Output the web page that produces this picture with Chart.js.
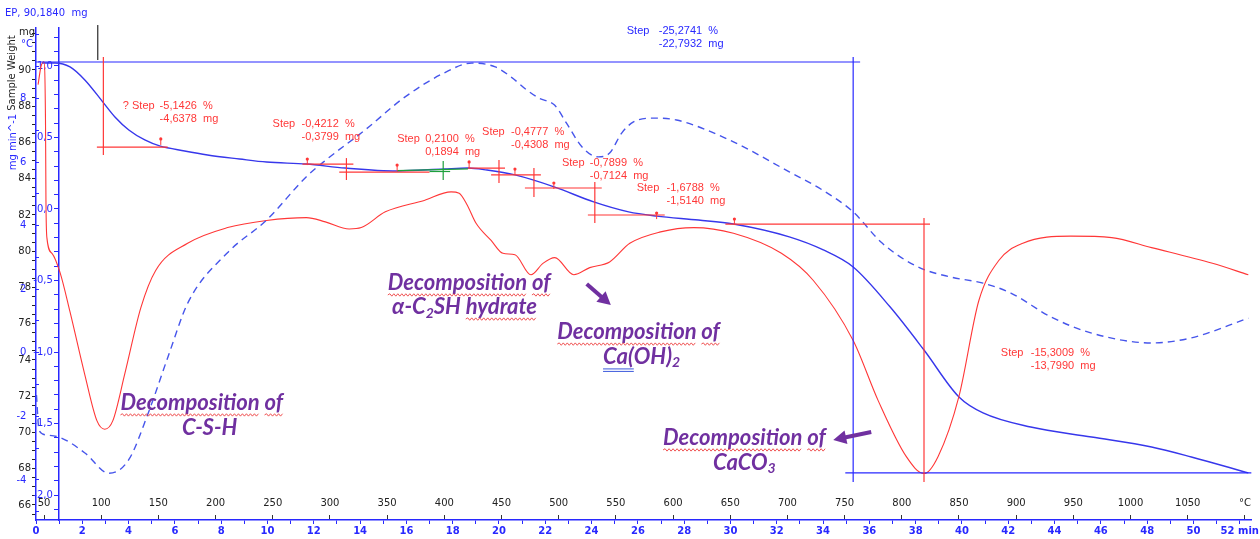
<!DOCTYPE html>
<html>
<head>
<meta charset="utf-8">
<script src="https://cdn.jsdelivr.net/npm/chart.js@4.4.1/dist/chart.umd.min.js"></script>
<style>
html, body { margin: 0; padding: 0; background: #fff; }
#wrap { width: 1260px; height: 539px; position: relative; }
</style>
</head>
<body>
<div id="wrap"><canvas id="myChart"></canvas></div>
<script>
// curves, time in min
var tgTime = [0.26, 0.82, 1.47, 2.11, 2.89, 3.41, 4.01, 4.70, 5.34, 6.42, 7.41, 8.79, 9.96, 11.68, 13.36, 15.60, 17.63, 18.66, 19.48, 20.69, 22.41, 24.09, 25.60, 26.81, 28.62, 30.13, 32.54, 34.01, 35.30, 36.90, 38.36, 39.87, 40.91, 42.97, 45.60, 48.19, 49.91, 52.37];
var tgMass = [90.39, 90.39, 90.17, 89.45, 88.23, 87.41, 86.69, 86.14, 85.81, 85.53, 85.31, 85.09, 84.92, 84.81, 84.59, 84.43, 84.54, 84.59, 84.48, 84.21, 83.54, 82.72, 82.17, 81.94, 81.72, 81.50, 80.79, 80.07, 79.13, 76.92, 74.55, 71.96, 71.08, 70.30, 69.75, 69.20, 68.65, 67.77];

var dtgTime = [0.09, 0.22, 0.34, 0.41, 0.43, 0.47, 0.69, 1.03, 1.47, 2.11, 2.63, 2.97, 3.32, 3.84, 4.53, 5.17, 6.55, 8.28, 9.96, 11.68, 12.5, 13.53, 14.05, 15.09, 16.77, 17.93, 18.28, 18.62, 19.01, 19.66, 20.17, 20.69, 21.38, 21.9, 22.41, 23.23, 23.92, 24.78, 25.65, 26.98, 28.41, 30.13, 32.2, 33.58, 35.3, 36.38, 37.59, 38.36, 38.97, 39.87, 40.73, 41.59, 42.63, 44.7, 46.47, 48.19, 50.82, 52.37];
var dtgRate = [0.87, 1.00, 1.03, 0.62, 0.06, -0.20, -0.31, -0.44, -0.72, -1.16, -1.48, -1.54, -1.48, -1.15, -0.69, -0.43, -0.24, -0.13, -0.08, -0.06, -0.09, -0.14, -0.13, -0.02, 0.06, 0.12, 0.11, 0.03, -0.10, -0.22, -0.31, -0.32, -0.46, -0.38, -0.34, -0.46, -0.41, -0.37, -0.24, -0.16, -0.13, -0.17, -0.31, -0.50, -0.92, -1.34, -1.73, -1.85, -1.73, -1.31, -0.64, -0.36, -0.24, -0.19, -0.20, -0.27, -0.38, -0.46];

var dscTime = [0.02, 0.13, 0.42, 1.10, 2.13, 3.15, 4.0, 4.85, 5.70, 6.56, 8.26, 9.97, 11.67, 12.52, 14.22, 15.93, 17.63, 18.82, 19.84, 20.53, 21.21, 21.72, 22.40, 22.91, 23.59, 24.28, 24.78, 25.30, 25.81, 26.64, 27.67, 29.96, 32.54, 33.97, 35.3, 36.55, 38.1, 39.53, 40.91, 42.11, 43.84, 45.6, 48.19, 49.91, 52.37];
var dscSignal = [-1.33, -2.43, -2.58, -2.68, -3.16, -3.79, -3.37, -1.89, -0.13, 1.57, 3.14, 4.18, 5.53, 6.06, 7.01, 8.04, 8.80, 9.11, 8.99, 8.67, 8.26, 8.01, 7.79, 7.23, 6.47, 6.16, 6.28, 6.91, 7.26, 7.38, 7.32, 6.69, 5.69, 5.12, 4.43, 3.45, 2.70, 2.38, 2.19, 1.88, 1.13, 0.62, 0.31, 0.47, 1.09];

// furnace programme: temperature at t=0 and heating rate (°C/min)
var tempStart = 43;
var tempRate = 20.24;

// step evaluation marks, [t1, mg1, t2, mg2]
var redSegs = [
    [2.91, 90.72, 2.91, 85.31], [2.63, 85.75, 5.69, 85.75],
    [11.51, 84.81, 13.71, 84.81], [13.41, 85.14, 13.41, 83.93], [13.10, 84.37, 17.0, 84.37],
    [20.0, 85.03, 20.0, 83.77], [18.66, 84.59, 20.26, 84.59],
    [21.51, 84.59, 21.51, 82.99], [19.66, 84.21, 21.81, 84.21],
    [21.12, 83.49, 24.44, 83.49], [24.14, 83.82, 24.14, 81.56], [23.84, 82.0, 27.16, 82.0],
    [29.78, 81.50, 38.62, 81.50], [38.36, 81.83, 38.36, 67.27]
];
var greenSegs = [[17.59, 84.98, 17.59, 83.93], [17.0, 84.40, 17.89, 84.40], [15.6, 84.45, 18.66, 84.55]];
var blueSegs = [[0, 90.44, 35.60, 90.44], [35.30, 90.72, 35.30, 67.27], [34.96, 67.77, 52.5, 67.77]];
var blackSegs = [[2.67, 92.48, 2.67, 90.55]];
var stepMarks = [[5.39, 86.03], [11.72, 84.92], [15.60, 84.59], [18.71, 84.76], [20.69, 84.37], [22.37, 83.60], [26.81, 81.94], [30.17, 81.61]];

var stepLabels = [
    { t: 3.75, w: 88.01, head: '? Step', vt: 5.34, pct: '-5,1426', mass: '-4,6378' },
    { t: 10.22, w: 87.02, head: 'Step', vt: 11.47, pct: '-0,4212', mass: '-0,3799' },
    { t: 15.60, w: 86.19, head: 'Step', vt: 16.81, pct: '0,2100', mass: '0,1894' },
    { t: 19.27, w: 86.58, head: 'Step', vt: 20.52, pct: '-0,4777', mass: '-0,4308' },
    { t: 22.72, w: 84.87, head: 'Step', vt: 23.92, pct: '-0,7899', mass: '-0,7124' },
    { t: 25.95, w: 83.49, head: 'Step', vt: 27.24, pct: '-1,6788', mass: '-1,5140' },
    { t: 41.68, w: 74.39, head: 'Step', vt: 42.97, pct: '-15,3009', mass: '-13,7990' }
];
var totalStep = { t: 25.52, w: 92.15, head: 'Step', vt: 26.90, pct: '-25,2741', mass: '-22,7932' };

// purple notes: [text, subscript, underline (1 wavy red, 2 double blue)]
var noteLines = [
    { t: 7.16, w: 71.63, segs: [['Decomposition', 0, 1], [' ', 0, 0], ['of', 0, 1]] },
    { t: 7.50, w: 70.25, segs: [['C-S-H', 0, 0]] },
    { t: 18.71, w: 78.25, segs: [['Decomposition', 0, 1], [' ', 0, 0], ['of', 0, 1]] },
    { t: 18.51, w: 76.92, segs: [['α-C', 0, 0], ['2', 1, 0], ['SH ', 0, 0], ['hydrate', 0, 1]] },
    { t: 26.03, w: 75.54, segs: [['Decomposition', 0, 1], [' ', 0, 0], ['of', 0, 1]] },
    { t: 26.16, w: 74.17, segs: [['Ca(', 0, 2], ['OH)', 0, 0], ['2', 1, 0]] },
    { t: 30.60, w: 69.70, segs: [['Decomposition', 0, 1], [' ', 0, 0], ['of', 0, 1]] },
    { t: 30.60, w: 68.32, segs: [['CaCO', 0, 0], ['3', 1, 0]] }
];
var arrows = [[23.79, 78.19, 24.83, 77.03], [36.08, 70.03, 34.44, 69.59]];

var AXIS_BLUE = 'rgb(40,40,255)';
var TG_BLUE = 'rgb(55,55,235)';
var RED = 'rgb(255,55,55)';
var PURPLE = 'rgb(112,48,160)';
var tickFont = { family: 'DejaVu Sans', size: 10 };

function pairs(xs, ys) {
    return xs.map(function (x, i) { return { x: x, y: ys[i] }; });
}
function comma(v, d) {
    return v.toFixed(d).replace('.', ',');
}

function wave(ctx, x1, x2, y) {
    ctx.beginPath();
    ctx.moveTo(x1, y);
    var up = true;
    for (var x = x1 + 2; x <= x2; x += 2) {
        ctx.lineTo(x, y + (up ? -1.2 : 1.2));
        up = !up;
    }
    ctx.stroke();
}

function drawNote(ctx, line, cx, cy) {
    var big = 'italic bold 22px Lato', small = 'italic bold 14px Lato';
    var widths = [], total = 0;
    line.segs.forEach(function (s) {
        ctx.font = s[1] ? small : big;
        var w = ctx.measureText(s[0]).width;
        widths.push(w);
        total += w;
    });
    var x = cx - total / 2;
    line.segs.forEach(function (s, i) {
        ctx.font = s[1] ? small : big;
        ctx.fillStyle = PURPLE;
        ctx.fillText(s[0], x, s[1] ? cy + 6 : cy);
        if (s[2] === 1) {
            ctx.strokeStyle = 'rgb(235,40,40)';
            ctx.lineWidth = 0.8;
            wave(ctx, x, x + widths[i], cy + 12);
        } else if (s[2] === 2) {
            ctx.strokeStyle = 'rgb(60,90,220)';
            ctx.lineWidth = 1;
            ctx.beginPath();
            ctx.moveTo(x, cy + 12); ctx.lineTo(x + widths[i], cy + 12);
            ctx.moveTo(x, cy + 14.5); ctx.lineTo(x + widths[i], cy + 14.5);
            ctx.stroke();
        }
        x += widths[i];
    });
}

var extras = {
    id: 'extras',
    afterDraw: function (chart) {
        var ctx = chart.ctx, sx = chart.scales.x, sy = chart.scales.yW, ca = chart.chartArea;
        function px(t) { return sx.getPixelForValue(t); }
        function py(w) { return sy.getPixelForValue(w); }
        ctx.save();

        function segs(list, color, width) {
            ctx.strokeStyle = color;
            ctx.lineWidth = width;
            list.forEach(function (s) {
                ctx.beginPath();
                ctx.moveTo(px(s[0]), py(s[1]));
                ctx.lineTo(px(s[2]), py(s[3]));
                ctx.stroke();
            });
        }
        segs(blueSegs, AXIS_BLUE, 1.2);
        segs(blackSegs, '#000', 1);
        segs(redSegs, RED, 1.2);
        segs(greenSegs, 'rgb(30,160,60)', 1.2);

        ctx.fillStyle = RED;
        ctx.strokeStyle = RED;
        ctx.lineWidth = 1;
        stepMarks.forEach(function (m) {
            var x = px(m[0]), y = py(m[1]);
            ctx.beginPath(); ctx.moveTo(x, y + 3); ctx.lineTo(x, y - 4); ctx.stroke();
            ctx.beginPath(); ctx.arc(x, y - 3, 1.6, 0, 2 * Math.PI); ctx.fill();
        });

        ctx.font = '11px "Liberation Sans"';
        ctx.textBaseline = 'middle';
        ctx.textAlign = 'left';
        function stepText(s, color) {
            var y = py(s.w);
            ctx.fillStyle = color;
            ctx.fillText(s.head, px(s.t), y);
            ctx.fillText(s.pct + '  %', px(s.vt), y);
            ctx.fillText(s.mass + '  mg', px(s.vt), y + 13);
        }
        stepLabels.forEach(function (s) { stepText(s, RED); });
        stepText(totalStep, AXIS_BLUE);

        // axis captions
        ctx.font = '10px "DejaVu Sans"';
        ctx.fillStyle = AXIS_BLUE;
        ctx.fillText('EP, 90,1840  mg', ca.left - 31, ca.top - 15);
        ctx.textAlign = 'center';
        ctx.fillStyle = '#222';
        ctx.fillText('mg', ca.left - 9, ca.top + 4);
        ctx.fillStyle = AXIS_BLUE;
        ctx.fillText('°C', ca.left - 9, ca.top + 16);
        ctx.save();
        ctx.translate(ca.left - 24, ca.top + 45);
        ctx.rotate(-Math.PI / 2);
        ctx.fillStyle = '#222';
        ctx.fillText('Sample Weight', 0, 0);
        ctx.restore();
        ctx.save();
        ctx.translate(ca.left - 23, ca.top + 114);
        ctx.rotate(-Math.PI / 2);
        ctx.fillStyle = AXIS_BLUE;
        ctx.fillText('mg min^-1', 0, 0);
        ctx.restore();

        // notes and arrows
        ctx.textAlign = 'left';
        noteLines.forEach(function (l) { drawNote(ctx, l, px(l.t), py(l.w)); });
        ctx.strokeStyle = PURPLE;
        ctx.fillStyle = PURPLE;
        arrows.forEach(function (a) {
            var x1 = px(a[0]), y1 = py(a[1]), x2 = px(a[2]), y2 = py(a[3]);
            var ang = Math.atan2(y2 - y1, x2 - x1);
            ctx.lineWidth = 4;
            ctx.beginPath();
            ctx.moveTo(x1, y1);
            ctx.lineTo(x2 - 8 * Math.cos(ang), y2 - 8 * Math.sin(ang));
            ctx.stroke();
            ctx.beginPath();
            ctx.moveTo(x2, y2);
            ctx.lineTo(x2 - 13 * Math.cos(ang) + 7 * Math.sin(ang), y2 - 13 * Math.sin(ang) - 7 * Math.cos(ang));
            ctx.lineTo(x2 - 13 * Math.cos(ang) - 7 * Math.sin(ang), y2 - 13 * Math.sin(ang) + 7 * Math.cos(ang));
            ctx.closePath();
            ctx.fill();
        });
        ctx.restore();
    }
};

var ctx = document.getElementById('myChart').getContext('2d');
var myChart = new Chart(ctx, {
    type: 'line',
    data: {
        datasets: [{
            label: 'DSC',
            data: pairs(dscTime, dscSignal),
            xAxisID: 'x', yAxisID: 'yH',
            borderColor: 'rgb(70,85,235)',
            borderWidth: 1.4,
            borderDash: [7, 5],
            pointRadius: 0,
            cubicInterpolationMode: 'monotone'
        }, {
            label: 'DTG',
            data: pairs(dtgTime, dtgRate),
            xAxisID: 'x', yAxisID: 'yD',
            borderColor: RED,
            borderWidth: 1.1,
            pointRadius: 0,
            cubicInterpolationMode: 'monotone'
        }, {
            label: 'TG',
            data: pairs(tgTime, tgMass),
            xAxisID: 'x', yAxisID: 'yW',
            borderColor: TG_BLUE,
            borderWidth: 1.4,
            pointRadius: 0,
            cubicInterpolationMode: 'monotone'
        }]
    },
    options: {
        responsive: true,
        maintainAspectRatio: false,
        animation: false,
        devicePixelRatio: 1,
        layout: { padding: { top: 28, right: 6, bottom: 0, left: 0 } },
        plugins: { legend: { display: false }, tooltip: { enabled: false } },
        scales: {
            x: {
                type: 'linear', position: 'bottom', min: 0, max: 52.5,
                afterFit: function (s) { s.height = 19; },
                grid: { drawOnChartArea: false, color: AXIS_BLUE, tickLength: 4 },
                border: { color: AXIS_BLUE, width: 1.5 },
                ticks: {
                    stepSize: 1, autoSkip: false, maxRotation: 0, padding: 1, includeBounds: false,
                    color: AXIS_BLUE, font: { family: 'DejaVu Sans', size: 10, weight: 'bold' },
                    callback: function (v) {
                        if (v === 52) return '52 min';
                        return v % 2 === 0 ? String(v) : '';
                    }
                }
            },
            xT: {
                type: 'linear', position: { yW: 65.172 },
                min: tempStart, max: tempStart + tempRate * 52.5,
                grid: { drawOnChartArea: false, color: '#333', tickLength: -5 },
                border: { display: false },
                ticks: {
                    stepSize: 50, maxTicksLimit: 100, autoSkip: false, maxRotation: 0, includeBounds: false,
                    padding: -18, color: '#222', font: tickFont,
                    callback: function (v) { return v === 1100 ? '°C' : String(v); }
                }
            },
            yW: {
                type: 'linear', position: 'left', min: 65.172, max: 92.317,
                afterFit: function (s) { s.width = 36; },
                grid: { drawOnChartArea: false, color: '#222', tickLength: 4 },
                border: { display: false },
                ticks: {
                    stepSize: 0.5, maxTicksLimit: 200, autoSkip: false, includeBounds: false, padding: 1,
                    color: '#222', font: tickFont,
                    callback: function (v) { return v % 2 === 0 && v <= 90 ? String(v) : ''; }
                }
            },
            yH: {
                type: 'linear', position: { x: 0 }, min: -5.258, max: 10.214,
                grid: { drawOnChartArea: false, color: AXIS_BLUE, tickLength: -4 },
                border: { color: AXIS_BLUE, width: 1.5 },
                ticks: {
                    stepSize: 1, maxTicksLimit: 200, autoSkip: false, includeBounds: false,
                    color: AXIS_BLUE, font: tickFont,
                    // trailing spaces keep the label clear of the axis line
                    callback: function (v) { return v % 2 === 0 && v <= 8 ? String(v) + '   ' : ''; }
                }
            },
            yD: {
                type: 'linear', position: { x: 1 }, min: -2.1748, max: 1.2657,
                grid: { drawOnChartArea: false, color: AXIS_BLUE, tickLength: 4 },
                border: { color: AXIS_BLUE, width: 1.5 },
                ticks: {
                    stepSize: 0.1, maxTicksLimit: 200, autoSkip: false, includeBounds: false,
                    color: AXIS_BLUE, font: tickFont,
                    callback: function (v) {
                        return Math.abs(v * 2 - Math.round(v * 2)) < 1e-6 ? comma(v, 1) + '  ' : '';
                    }
                }
            }
        }
    },
    plugins: [extras]
});
</script>
</body>
</html>
